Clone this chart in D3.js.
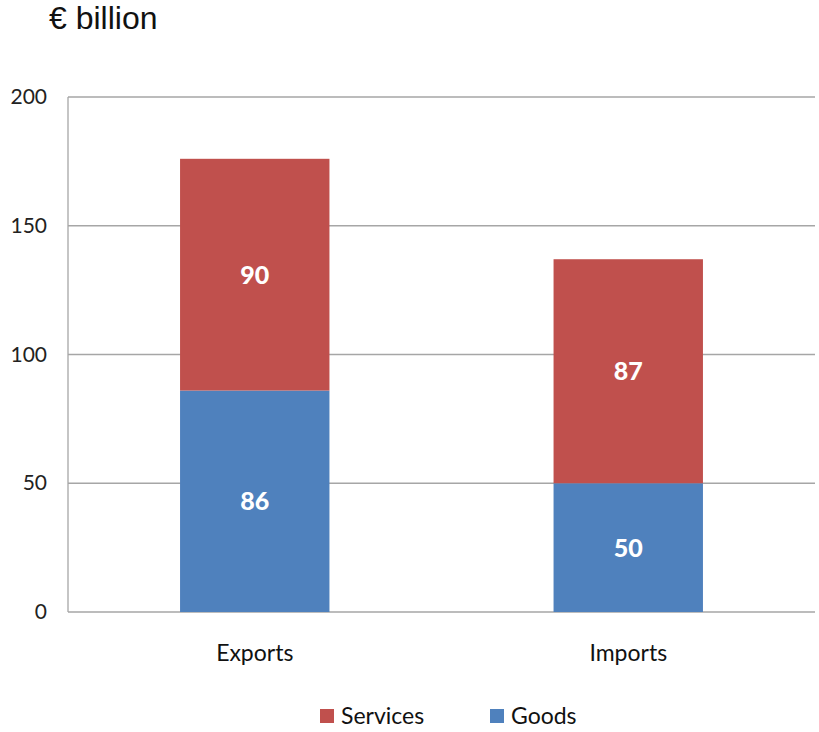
<!DOCTYPE html>
<html><head><meta charset="utf-8">
<script src="https://cdn.jsdelivr.net/npm/d3@7"></script>
<style>body{margin:0;background:#fff}</style>
</head><body>
<script>
const categories = ["Exports", "Imports"];
const seriesNames = ["Goods", "Services"];
const goods = [86, 50];
const services = [90, 87];
const yTicks = [0, 50, 100, 150, 200];
const colors = {Goods: "#4f81bd", Services: "#c0504d"};

const W = 819, H = 732;
const svg = d3.select("body").append("svg").attr("width", W).attr("height", H);
const m = {left: 68, right: 815, top: 97, bottom: 612};

const x = d3.scaleBand().domain(categories).range([m.left, m.right]).paddingInner(0.6).paddingOuter(0.3);
const y = d3.scaleLinear().domain([0, 200]).range([m.bottom, m.top]);

// gridlines
svg.append("g").selectAll("line").data(yTicks).join("line")
  .attr("x1", m.left).attr("x2", m.right)
  .attr("y1", d => y(d)).attr("y2", d => y(d))
  .attr("stroke", "#a6a6a6").attr("stroke-width", 1.3);
// y axis line
svg.append("line").attr("x1", m.left).attr("x2", m.left).attr("y1", y(200)).attr("y2", y(0))
  .attr("stroke", "#a6a6a6").attr("stroke-width", 1.3);

const yAxis = d3.axisLeft(y).tickValues(yTicks).tickSize(0).tickPadding(21);
const ga = svg.append("g").attr("transform", `translate(${m.left},0)`).call(yAxis);
ga.select(".domain").remove();
ga.selectAll("text").attr("font-family", "Lato, 'Open Sans', sans-serif").attr("font-size", 21).attr("fill", "#222");

const data = categories.map((c, i) => ({cat: c, Goods: goods[i], Services: services[i]}));
const stack = d3.stack().keys(seriesNames)(data);

const layers = svg.append("g").selectAll("g").data(stack).join("g").attr("fill", d => colors[d.key]);
layers.selectAll("rect").data(d => d).join("rect")
  .attr("x", d => x(d.data.cat)).attr("width", x.bandwidth())
  .attr("y", d => y(d[1])).attr("height", d => y(d[0]) - y(d[1]));

layers.selectAll("text").data(d => d).join("text")
  .attr("x", d => x(d.data.cat) + x.bandwidth() / 2)
  .attr("y", d => (y(d[0]) + y(d[1])) / 2 + 9)
  .attr("text-anchor", "middle").attr("fill", "#fff")
  .attr("font-family", "Lato, 'Open Sans', sans-serif").attr("font-weight", "900").attr("font-size", 25)
  .text(d => d[1] - d[0]);

// category labels
const xAxis = d3.axisBottom(x).tickSize(0).tickPadding(33);
const gx = svg.append("g").attr("transform", `translate(0,${m.bottom})`).call(xAxis);
gx.select(".domain").remove();
gx.selectAll("text").attr("font-family", "Lato, 'Open Sans', sans-serif").attr("font-size", 23).attr("fill", "#111");

// title
svg.append("text").attr("x", 49).attr("y", 29).attr("font-family", "'Liberation Sans', Arial, sans-serif")
  .attr("font-size", 32).attr("fill", "#111").text("€ billion");

// legend
const legendItems = ["Services", "Goods"];
const lx = [320, 490];
const lg = svg.append("g").selectAll("g").data(legendItems).join("g")
  .attr("transform", (d, i) => `translate(${lx[i]},709)`);
lg.append("rect").attr("width", 14).attr("height", 14).attr("fill", d => colors[d]);
lg.append("text").attr("x", 21).attr("y", 15).attr("font-family", "Lato, 'Open Sans', sans-serif")
  .attr("font-size", 23).attr("fill", "#111").text(d => d);
</script>
</body></html>
